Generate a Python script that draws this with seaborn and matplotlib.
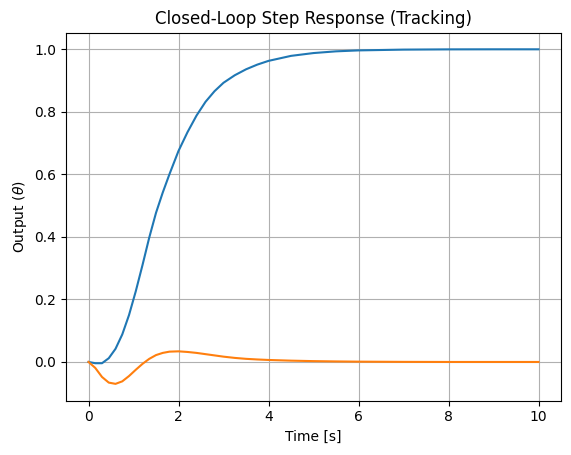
import numpy as np
import matplotlib
matplotlib.use("Agg")
import matplotlib.pyplot as plt
import seaborn as sns

# values
time = [0.0, 0.15, 0.3, 0.45, 0.6, 0.75, 0.9, 1.05, 1.2, 1.35, 1.5, 1.65, 1.8,
        2.0, 2.2, 2.4, 2.6, 2.8, 3.0, 3.25, 3.5, 3.75, 4.0, 4.5, 5.0, 5.5, 6.0,
        7.0, 8.0, 9.0, 10.0]
theta = [0.0, -0.004, -0.004, 0.012, 0.042, 0.088, 0.150, 0.226, 0.31, 0.398,
         0.477, 0.542, 0.601, 0.675, 0.735, 0.788, 0.832, 0.866, 0.893, 0.917,
         0.936, 0.951, 0.963, 0.979, 0.988, 0.9935, 0.9965, 0.999, 0.9998,
         1.0, 1.0]
other = [0.0, -0.019, -0.048, -0.066, -0.070, -0.062, -0.045, -0.025, -0.006,
         0.010, 0.022, 0.029, 0.033, 0.034, 0.032, 0.029, 0.025, 0.021, 0.017,
         0.013, 0.010, 0.008, 0.0064, 0.0042, 0.0027, 0.0017, 0.001, 0.0003,
         0.0, 0.0, 0.0]

fig, ax = plt.subplots(figsize=(5.71, 4.55), dpi=100)
fig.subplots_adjust(left=0.1156, right=0.9825, top=0.9284, bottom=0.1196)

sns.lineplot(x=time, y=theta, ax=ax, color="C0")
sns.lineplot(x=time, y=other, ax=ax, color="C1")

ax.set_title("Closed-Loop Step Response (Tracking)")
ax.set_xlabel("Time [s]")
ax.set_ylabel(r"Output ($\theta$)")
ax.grid(True)

fig.savefig("out.png", dpi=100)
